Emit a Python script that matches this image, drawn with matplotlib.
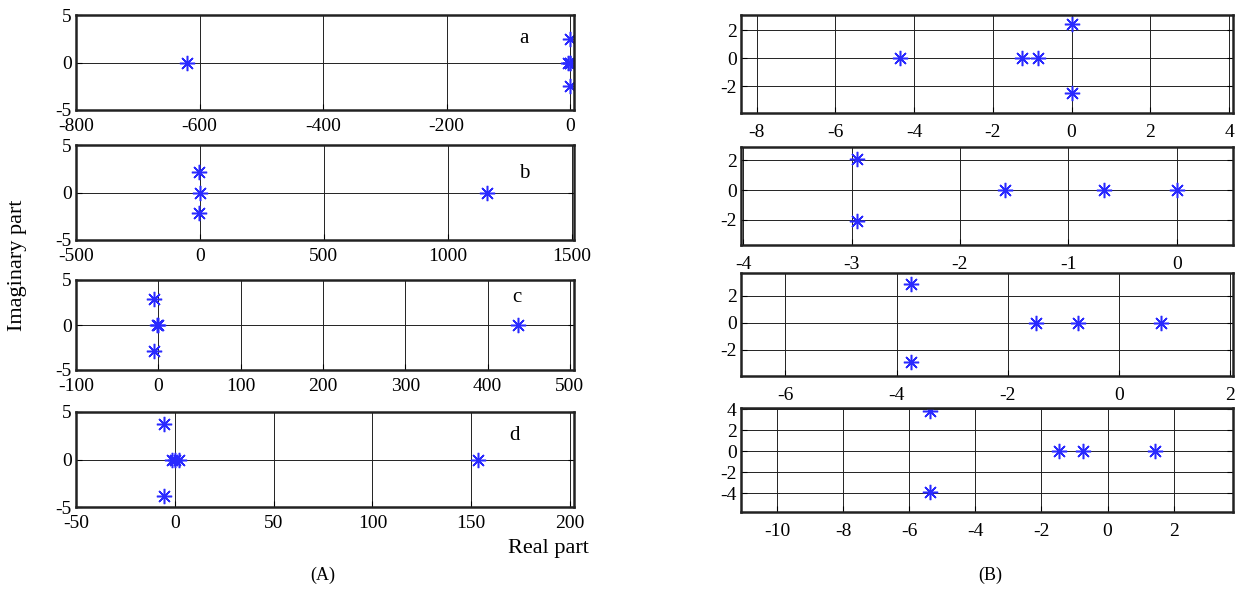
import matplotlib
matplotlib.use("Agg")
import matplotlib.pyplot as plt

plt.rcParams['font.family'] = ['Liberation Serif', 'DejaVu Serif']
plt.rcParams['font.size'] = 14
plt.rcParams['axes.unicode_minus'] = False

# ---- Data (A) ----
a_re = [-621, 0, 0, -1, -3, 0]
a_im = [0, 2.45, 0, 0, 0, -2.45]
b_re = [-5, 0, -5, 1158]
b_im = [2.2, 0, -2.2, 0]
c_re = [-5, -2, 0, -5, 437]
c_im = [2.9, 0, 0, -2.9, 0]
d_re = [-5.5, -1.5, 0, 2, -5.5, 153.5]
d_im = [3.7, 0, 0, 0, -3.8, 0]

# ---- Data (B) ----
b1_re = [-4.35, -1.25, -0.86, 0, 0]
b1_im = [0, 0, 0, 2.45, -2.45]
b2_re = [-2.95, -2.95, -1.58, -0.67, 0]
b2_im = [2.1, -2.05, 0, 0, 0]
b3_re = [-3.75, -3.75, -1.5, -0.735, 0.75]
b3_im = [2.85, -2.88, 0, 0, 0]
b4_re = [-5.39, -5.39, -1.47, -0.74, 1.45]
b4_im = [3.8, -3.9, 0, 0, 0]

panel_letters = ['a', 'b', 'c', 'd']
A_xticks = [list(range(-800, 1, 200)), list(range(-500, 1501, 500)),
            list(range(-100, 501, 100)), list(range(-50, 201, 50))]
A_xlims = [(-800, 6), (-500, 1510), (-100, 505), (-50, 202)]
A_letter_pos = [(-75, 2.5), (1310, 2.0), (435, 3.0), (172, 2.5)]

B_xticks = [list(range(-8, 5, 2)), list(range(-4, 1, 1)),
            list(range(-6, 3, 2)), list(range(-10, 3, 2))]
B_yticks = [[-2, 0, 2], [-2, 0, 2], [-2, 0, 2], [-4, -2, 0, 2, 4]]
B_xlims = [(-8.4, 4.1), (-4.02, 0.52), (-6.8, 2.05), (-11.1, 3.8)]
B_ylims = [(-3.9, 3.1), (-3.7, 2.9), (-3.95, 3.7), (-5.8, 4.1)]

W, H = 1243, 590
fig = plt.figure(figsize=(W / 100, H / 100), dpi=100)

def add_ax(l, r, t, b):
    return fig.add_axes([l / W, 1 - b / H, (r - l) / W, (b - t) / H])

A_boxes = [(15, 110), (145, 240), (280, 370), (412, 507)]
B_boxes = [(15, 113), (147, 245), (273, 376), (408, 512)]

MARK = dict(linestyle='none', marker=(8, 2, 0), color='#2a2aff',
            markersize=11, markeredgewidth=1.1)

def style(ax):
    ax.grid(True, color='#222222', linewidth=0.7)
    ax.set_axisbelow(True)
    for s in ax.spines.values():
        s.set_linewidth(1.8)
        s.set_color('#222222')
    ax.tick_params(direction='in', length=4, top=False, right=True, pad=3)

A_re = [a_re, b_re, c_re, d_re]
A_im = [a_im, b_im, c_im, d_im]
for i in range(4):
    t, b = A_boxes[i]
    ax = add_ax(76, 574, t, b)
    ax.plot(A_re[i], A_im[i], **MARK)
    ax.set_xlim(*A_xlims[i])
    ax.set_ylim(-5, 5)
    ax.set_xticks(A_xticks[i])
    ax.set_yticks([-5, 0, 5])
    style(ax)
    ax.tick_params(axis='x', pad=6)
    ax.text(A_letter_pos[i][0], A_letter_pos[i][1], panel_letters[i], fontsize=15,
            ha='center', va='center')

B_re = [b1_re, b2_re, b3_re, b4_re]
B_im = [b1_im, b2_im, b3_im, b4_im]
for i in range(4):
    t, b = B_boxes[i]
    ax = add_ax(741, 1233, t, b)
    ax.plot(B_re[i], B_im[i], **MARK)
    ax.set_xlim(*B_xlims[i])
    ax.set_ylim(*B_ylims[i])
    ax.set_xticks(B_xticks[i])
    ax.set_yticks(B_yticks[i])
    style(ax)
    ax.tick_params(axis='x', pad=8)

fig.text(18 / W, 1 - 265 / H, 'Imaginary part', rotation=90, ha='center', va='center', fontsize=16)
fig.text(548 / W, 1 - 548 / H, 'Real part', ha='center', va='center', fontsize=16)
fig.text(323 / W, 1 - 575 / H, '(A)', ha='center', va='center', fontsize=13)
fig.text(990 / W, 1 - 575 / H, '(B)', ha='center', va='center', fontsize=13)

fig.savefig('out.png', dpi=100)
